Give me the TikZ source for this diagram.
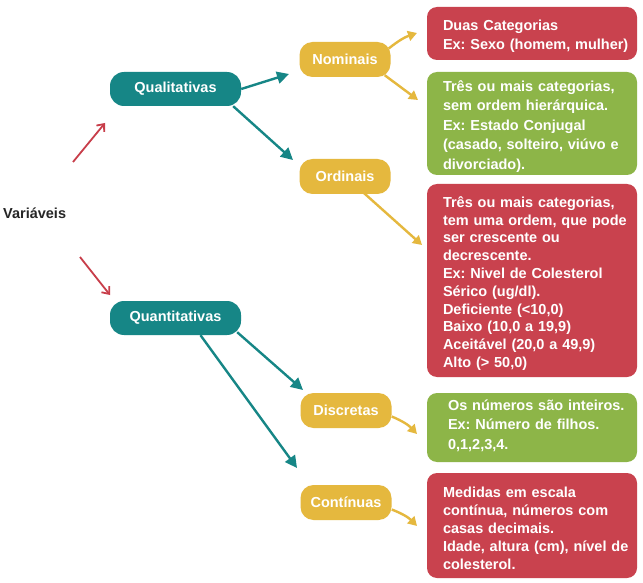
\documentclass[tikz,border=0pt]{standalone}
\usepackage{fontspec}
\setmainfont{Liberation Sans}
\usetikzlibrary{arrows.meta,calc}
\definecolor{tealc}{RGB}{22,134,134}
\definecolor{redc}{RGB}{201,66,78}
\definecolor{greenc}{RGB}{141,181,72}
\definecolor{yelc}{RGB}{229,184,62}
\definecolor{redarr}{RGB}{200,62,74}
\frenchspacing
\newcommand\toppad{\rule{0pt}{17pt}}
\begin{document}
\begin{tikzpicture}[x=1pt,y=-1pt,
  font=\fontsize{14.5}{19}\selectfont\bfseries,
  pill/.style={fill=tealc, text=white, rounded corners=14pt, minimum width=131pt, minimum height=34pt, inner sep=0pt},
  cat/.style={fill=yelc, text=white, rounded corners=13pt, minimum width=91pt, minimum height=35pt, inner sep=0pt},
  info/.style={text=white, rounded corners=10pt, text width=200pt, inner xsep=5pt, inner ysep=0pt, align=left,
    execute at begin node={\leftskip=11pt\rightskip=-20pt plus 1fil\toppad}},
  tarr/.style={draw=tealc, line width=2.4pt, -{Triangle[length=12pt,width=12pt]}},
  yarr/.style={draw=yelc, line width=2.4pt, -{Triangle[length=9pt,width=10pt]}},
  rarr/.style={draw=redarr, line width=1.8pt, -{Straight Barb[length=6pt,width=10pt]}}
]
\useasboundingbox (0,0) rectangle (643,583);
\fill[white] (0,0) rectangle (643,583);

\node[anchor=west, text=black!85, inner sep=0pt] (var) at (3,213) {Variáveis};

\node[pill] (qual) at (175.5,89) {Qualitativas};
\node[pill] (quant) at (175.5,318) {Quantitativas};

\node[cat] (nom) at (345,59.5) {Nominais};
\node[cat] (ord) at (345,176.5) {Ordinais};
\node[cat] (disc) at (346,410.5) {Discretas};
\node[cat] (cont) at (346,502.5) {Contínuas};

\node[info, fill=redc, minimum height=53pt] (r1) at (532,33.5)
  {Duas Categorias\\Ex: Sexo (homem, mulher)};
\node[info, fill=greenc, minimum height=103pt, font=\fontsize{14.5}{19.5}\selectfont\bfseries] (g1) at (532,123.5)
  {Três ou mais categorias,\\sem ordem hierárquica.\\Ex: Estado Conjugal\\(casado, solteiro, viúvo e\\divorciado).};
\node[info, fill=redc, minimum height=193pt, font=\fontsize{14.5}{17.8}\selectfont\bfseries] (r2) at (532,280.5)
  {Três ou mais categorias,\\tem uma ordem, que pode\\ser crescente ou\\decrescente.\\Ex: Nivel de Colesterol\\Sérico (ug/dl).\\Deficiente (<10,0)\\Baixo (10,0 a 19,9)\\Aceitável (20,0 a 49,9)\\Alto (> 50,0)};
\node[info, fill=greenc, minimum height=69pt, font=\fontsize{14.5}{19.5}\selectfont\bfseries,
  execute at begin node={\leftskip=16pt\rightskip=-20pt plus 1fil}] (g2) at (532,427.5)
  {Os números são inteiros.\\Ex: Número de filhos.\\0,1,2,3,4.\rule[-13pt]{0pt}{1pt}};
\node[info, fill=redc, minimum height=105pt, font=\fontsize{14.5}{18}\selectfont\bfseries] (r3) at (532,525.5)
  {Medidas em escala\\contínua, números com\\casas decimais.\\Idade, altura (cm), nível de\\colesterol.};

% red arrows from Variáveis
\coordinate (va1) at (73,162);
\coordinate (va2) at (105,123);
\coordinate (vb1) at (80,257);
\coordinate (vb2) at (110,295);
\draw[rarr] (va1) -- (va2);
\draw[rarr] (vb1) -- (vb2);

% teal arrows
\coordinate (tn) at (289,74);
\coordinate (to) at (293,160);
\coordinate (td) at (303,390);
\coordinate (tc) at (297,468);
\draw[tarr] (qual.east) -- (tn);
\draw[tarr] ($(qual.south east)+(-8,0)$) -- (to);
\draw[tarr] ($(quant.south east)+(-4,-3)$) -- (td);
\draw[tarr] ($(quant.south)+(25,0)$) -- (tc);

% yellow arrows
\coordinate (yr1) at (417,33);
\coordinate (yg1) at (418,100);
\coordinate (yr2) at (422,245);
\coordinate (yg2) at (417,434);
\coordinate (yr3) at (417,526);
\draw[yarr] ($(nom.east)+(-2,-11)$) to[bend left=10] (yr1);
\draw[yarr] ($(nom.south east)+(-6,-2)$) -- (yg1);
\draw[yarr] ($(ord.south)+(18,-2)$) -- (yr2);
\draw[yarr] ($(disc.east)+(0,6)$) to[bend left=12] (yg2);
\draw[yarr] ($(cont.east)+(0,7)$) to[bend left=12] (yr3);
\end{tikzpicture}
\end{document}
